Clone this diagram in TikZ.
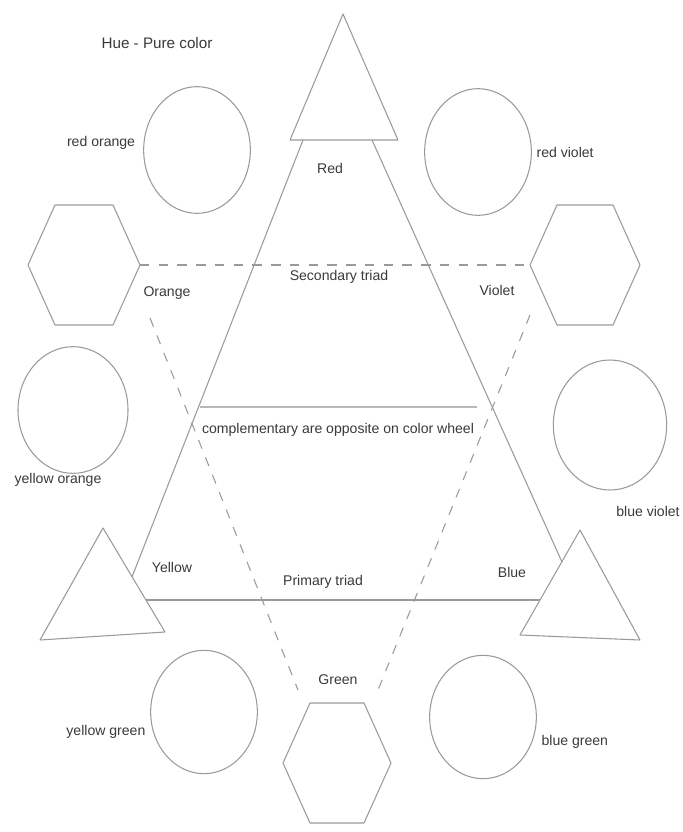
\documentclass[tikz,border=0pt]{standalone}
\usepackage{fontspec}
\setmainfont{Liberation Sans}
\usetikzlibrary{
    positioning,
    shapes.geometric
}
\definecolor{wheelline}{HTML}{9A9A9A}
\definecolor{wheeltext}{HTML}{3A3A3A}
\tikzset{
    hue circle/.style={
        ellipse, draw=wheelline, line width=0.9pt,
        minimum width=3.2cm, minimum height=3.8cm
    },
    hue label/.style={
        font=\fontsize{12}{14}\selectfont, text=wheeltext,
        inner sep=1pt
    },
    wheel line/.style={
        draw=wheelline, line width=0.9pt, line join=round
    },
    triad dash/.style={
        wheel line, dash pattern=on 8pt off 8pt
    },
}

\begin{document}
\begin{tikzpicture}[x=0.03cm, y=-0.03cm]

    % Canvas
    \fill[white] (0,0) rectangle (683,832);
    \useasboundingbox (0,0) rectangle (683,832);

    \node[hue label, font=\fontsize{13}{15}\selectfont] (title) at (157,43) {Hue - Pure color};

    % Primary triangles
    \coordinate (redtop) at (343,14);
    \coordinate (redR) at (398,140);
    \coordinate (redL) at (290,140);
    \draw[wheel line] (redtop) -- (redR) -- (redL) -- cycle;

    \coordinate (yeltop) at (103,528);
    \coordinate (yelR) at (165,632);
    \coordinate (yelL) at (40,640);
    \draw[wheel line] (yeltop) -- (yelR) -- (yelL) -- cycle;

    \coordinate (blutop) at (580,530);
    \coordinate (bluR) at (640,640);
    \coordinate (bluL) at (520,635);
    \draw[wheel line] (blutop) -- (bluR) -- (bluL) -- cycle;

    % Big triangle
    \coordinate (bigTL) at (303,140);
    \coordinate (bigTR) at (372,140);
    \coordinate (bigBL) at (132,577);
    \coordinate (bigBR) at (562,562);
    \coordinate (baseL) at (146,600);
    \coordinate (baseR) at (540,600);
    \draw[wheel line] (bigTL) -- (bigBL);
    \draw[wheel line] (bigTR) -- (bigBR);
    \draw[wheel line] (baseL) -- (baseR);

    % Secondary hexagons
    \coordinate (orgL) at (28,265);
    \coordinate (orgTL) at (55,205);
    \coordinate (orgTR) at (113,205);
    \coordinate (orgR) at (140,265);
    \coordinate (orgBR) at (113,325);
    \coordinate (orgBL) at (55,325);
    \draw[wheel line] (orgL) -- (orgTL) -- (orgTR) -- (orgR) -- (orgBR) -- (orgBL) -- cycle;

    \coordinate (vioL) at (530,265);
    \coordinate (vioTL) at (557,205);
    \coordinate (vioTR) at (613,205);
    \coordinate (vioR) at (640,265);
    \coordinate (vioBR) at (613,325);
    \coordinate (vioBL) at (557,325);
    \draw[wheel line] (vioL) -- (vioTL) -- (vioTR) -- (vioR) -- (vioBR) -- (vioBL) -- cycle;

    \coordinate (grnL) at (283,763);
    \coordinate (grnTL) at (310,703);
    \coordinate (grnTR) at (364,703);
    \coordinate (grnR) at (391,763);
    \coordinate (grnBR) at (364,823);
    \coordinate (grnBL) at (310,823);
    \draw[wheel line] (grnL) -- (grnTL) -- (grnTR) -- (grnR) -- (grnBR) -- (grnBL) -- cycle;

    % Secondary triad (dashed)
    \coordinate (dashOL) at (150,318);
    \coordinate (dashGL) at (298,690);
    \coordinate (dashVL) at (530,315);
    \coordinate (dashGR) at (378,690);
    \draw[triad dash] (orgR) -- (vioL);
    \draw[triad dash] (dashOL) -- (dashGL);
    \draw[triad dash] (dashVL) -- (dashGR);

    % Complementary line
    \coordinate (compL) at (200,407);
    \coordinate (compR) at (477,407);
    \draw[wheel line, draw=wheelline!70] (compL) -- (compR);

    % Tertiary circles
    \node[hue circle] (redorange) at (197,150) {};
    \node[hue circle] (redviolet) at (478,152) {};
    \node[hue circle, minimum width=3.3cm] (yelorange) at (73,410) {};
    \node[hue circle, minimum width=3.4cm, minimum height=3.9cm] (bluviolet) at (610,425) {};
    \node[hue circle, minimum height=3.7cm] (yelgreen) at (204,712) {};
    \node[hue circle, minimum height=3.7cm] (blugreen) at (483,717) {};

    % Labels
    \node[hue label, left=0.2cm of redorange.west, yshift=0.2cm] (lredorange) {red orange};
    \node[hue label, right=0.1cm of redviolet.east] (lredviolet) {red violet};
    \node[hue label] (lred) at (330,168) {Red};
    \node[hue label] (lorange) at (167,293) {Orange};
    \node[hue label] (lviolet) at (497,290) {Violet};
    \node[hue label] (lsecondary) at (339,277) {Secondary triad};
    \node[hue label] (lyelorange) at (58,480) {yellow orange};
    \node[hue label] (lbluviolet) at (648,511) {blue violet};
    \node[hue label] (lcomp) at (338,430) {complementary are opposite on color wheel};
    \node[hue label] (lyellow) at (172,567) {Yellow};
    \node[hue label] (lprimary) at (323,582) {Primary triad};
    \node[hue label] (lblue) at (512,572) {Blue};
    \node[hue label] (lgreen) at (338,680) {Green};
    \node[hue label, left=0.1cm of yelgreen.west, yshift=-0.6cm] (lyelgreen) {yellow green};
    \node[hue label, right=0.1cm of blugreen.east, yshift=-0.75cm] (lblugreen) {blue green};

\end{tikzpicture}
\end{document}
